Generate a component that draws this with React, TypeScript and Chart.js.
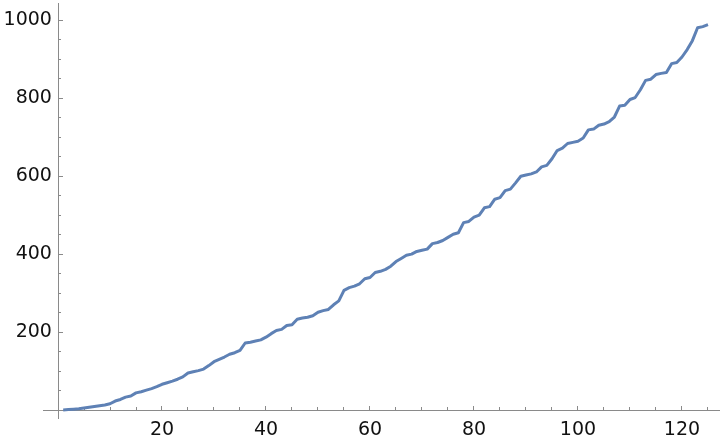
import React, { useEffect, useRef } from "react";
import { Chart, registerables } from "chart.js";

Chart.register(...registerables);

// Series values for x = 1..125
const seriesValues = [
  0, 1, 2, 3, 5, 7, 9, 11, 13, 16,
  23, 27, 33, 36, 44, 47, 51, 55, 60, 66,
  70, 74, 79, 85, 95, 98, 101, 105, 114, 124,
  130, 136, 143, 147, 153, 172, 174, 177, 180, 187,
  196, 204, 207, 217, 219, 233, 236, 238, 242, 251,
  255, 258, 270, 280, 307, 314, 318, 324, 337, 340,
  353, 356, 361, 369, 381, 389, 397, 400, 407, 410,
  413, 427, 430, 435, 443, 451, 455, 481, 484, 495,
  500, 519, 522, 541, 545, 563, 567, 583, 600, 603,
  606, 611, 624, 628, 645, 666, 672, 684, 687, 690,
  698, 719, 721, 731, 734, 740, 752, 780, 782, 797,
  802, 822, 846, 849, 861, 864, 866, 889, 892, 906,
  925, 948, 981, 984, 989,
];
const xValues = seriesValues.map((_, i) => i + 1);

const xMajorTicks = [20, 40, 60, 80, 100, 120];
const yMajorTicks = [200, 400, 600, 800, 1000];
const xMinorTicks = [5, 10, 15, 25, 30, 35, 45, 50, 55, 65, 70, 75, 85, 90, 95, 105, 110, 115, 125];
const yMinorTicks = [50, 100, 150, 250, 300, 350, 450, 500, 550, 650, 700, 750, 850, 900, 950];

const xMin = -2.885;
const xMax = 127.31;
const yMin = -20.51;
const yMax = 1043.6;

const AXIS_COLOR = "#8a8a8a";
const LINE_COLOR = "#5E81B5";
const LABEL_COLOR = "#111111";
const FONT = { family: "'DejaVu Sans'", size: 19 };

export default function App() {
  const canvasRef = useRef<HTMLCanvasElement | null>(null);

  useEffect(() => {
    const canvas = canvasRef.current;
    if (!canvas) return;
    const chart = new Chart(canvas, {
      type: "line",
      data: {
        datasets: [
          {
            data: xValues.map((x, i) => ({ x, y: seriesValues[i] })),
            borderColor: LINE_COLOR,
            backgroundColor: LINE_COLOR,
            borderWidth: 3,
            pointRadius: 0,
            tension: 0,
            fill: false,
            borderJoinStyle: "round",
            borderCapStyle: "butt",
          },
        ],
      },
      options: {
        animation: false,
        responsive: false,
        devicePixelRatio: 1,
        events: [],
        layout: { padding: { left: 43, right: 0, top: 3, bottom: 24 } },
        plugins: { legend: { display: false }, tooltip: { enabled: false } },
        scales: {
          x: {
            type: "linear",
            axis: "x",
            position: { y: 0 } as any,
            min: xMin,
            max: xMax,
            afterBuildTicks: (s: any) => {
              s.ticks = xMajorTicks.map((value) => ({ value }));
            },
            grid: {
              display: true,
              drawOnChartArea: false,
              drawTicks: true,
              tickLength: -5,
              tickColor: AXIS_COLOR,
              tickWidth: 1,
            },
            border: { display: true, color: AXIS_COLOR, width: 1 },
            ticks: {
              font: FONT,
              color: LABEL_COLOR,
              padding: 13.6,
              maxRotation: 0,
              autoSkip: false,
              callback: (v: any) => String(v),
            },
          },
          y: {
            type: "linear",
            axis: "y",
            position: { x: 0 } as any,
            min: yMin,
            max: yMax,
            afterBuildTicks: (s: any) => {
              s.ticks = yMajorTicks.map((value) => ({ value }));
            },
            grid: {
              display: true,
              drawOnChartArea: false,
              drawTicks: true,
              tickLength: -5,
              tickColor: AXIS_COLOR,
              tickWidth: 1,
            },
            border: { display: true, color: AXIS_COLOR, width: 1 },
            ticks: {
              font: FONT,
              color: LABEL_COLOR,
              padding: -8,
              autoSkip: false,
              callback: (v: any) => String(v) + " ",
            },
          },
          xm: {
            type: "linear",
            axis: "x",
            position: { y: 0 } as any,
            min: xMin,
            max: xMax,
            afterBuildTicks: (s: any) => {
              s.ticks = xMinorTicks.map((value) => ({ value }));
            },
            grid: {
              display: true,
              drawOnChartArea: false,
              drawTicks: true,
              tickLength: -3,
              tickColor: AXIS_COLOR,
              tickWidth: 1,
            },
            border: { display: false },
            ticks: { display: false },
          },
          ym: {
            type: "linear",
            axis: "y",
            position: { x: 0 } as any,
            min: yMin,
            max: yMax,
            afterBuildTicks: (s: any) => {
              s.ticks = yMinorTicks.map((value) => ({ value }));
            },
            grid: {
              display: true,
              drawOnChartArea: false,
              drawTicks: true,
              tickLength: -3,
              tickColor: AXIS_COLOR,
              tickWidth: 1,
            },
            border: { display: false },
            ticks: { display: false },
          },
        },
      } as any,
    });
    return () => chart.destroy();
  }, []);

  return (
    <div style={{ position: "absolute", left: 0, top: 0, width: 720, height: 442, background: "#fff" }}>
      <canvas ref={canvasRef} width={720} height={442} style={{ display: "block" }} />
    </div>
  );
}
